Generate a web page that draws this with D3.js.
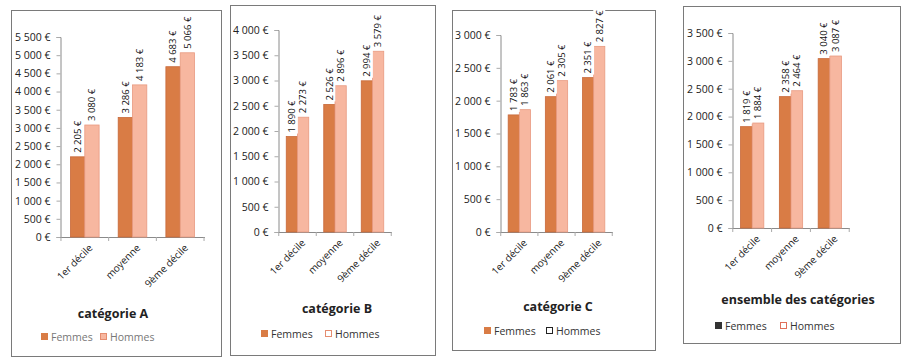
<!DOCTYPE html>
<html>
<head>
<meta charset="utf-8">
<script src="https://cdn.jsdelivr.net/npm/d3@7"></script>
<style>
  body { margin: 0; background: #fff; }
  svg text { font-family: "Open Sans", "Liberation Sans", sans-serif; }
</style>
</head>
<body>
<svg id="chart" width="904" height="358"></svg>
<script>
"use strict";

// data
var categories = ["1er décile", "moyenne", "9ème décile"];
var series = ["Femmes", "Hommes"];

var femmesA = [2205, 3286, 4683];
var hommesA = [3080, 4183, 5066];
var femmesB = [1890, 2526, 2994];
var hommesB = [2273, 2896, 3579];
var femmesC = [1783, 2061, 2351];
var hommesC = [1863, 2305, 2827];
var femmesT = [1819, 2358, 3040];
var hommesT = [1884, 2464, 3087];

var titles = ["catégorie  A", "catégorie  B", "catégorie  C", "ensemble des catégories"];
var yMaxes = [5500, 4000, 3000, 3500];
var tickStep = 500;

// layout of each panel (positions only)
var panels = [
  {box: [11, 10, 221, 356], left: 60, right: 205, top: 37, bottom: 237,
   titleX: 113, titleY: 318, legY: 337, legX: [41, 100],
   femColor: "#d97c45", homFill: "#f7b7a0", homStroke: "#e58d70", legText: "#777"},
  {box: [230, 5, 435, 355], left: 278, right: 392, top: 30, bottom: 232,
   titleX: 337, titleY: 313, legY: 334, legX: [261, 325],
   femColor: "#d97c45", homFill: "#fff", homStroke: "#e58d70", legText: "#333"},
  {box: [452, 10, 655, 350], left: 500, right: 613, top: 35, bottom: 232,
   titleX: 558, titleY: 311, legY: 331, legX: [484, 546],
   femColor: "#d97c45", homFill: "#fff", homStroke: "#222", legText: "#333"},
  {box: [683, 6, 900, 343], left: 732, right: 850, top: 33, bottom: 228,
   titleX: 798, titleY: 304, legY: 326, legX: [715, 780],
   femColor: "#333", homFill: "#fff", homStroke: "#e0705a", legText: "#333"}
];

var dataSets = [
  [femmesA, hommesA],
  [femmesB, hommesB],
  [femmesC, hommesC],
  [femmesT, hommesT]
];

var fmt = function(v) {
  return d3.format(",")(v).replace(/,/g, " ") + " €";
};

var svg = d3.select("#chart");

panels.forEach(function(p, k) {
  var g = svg.append("g");
  var yMax = yMaxes[k];
  var vals = dataSets[k];

  // panel frame
  g.append("rect")
    .attr("x", p.box[0] + 0.5)
    .attr("y", p.box[1] + 0.5)
    .attr("width", p.box[2] - p.box[0])
    .attr("height", p.box[3] - p.box[1])
    .attr("fill", "#fff")
    .attr("stroke", "#7a7a7a")
    .attr("stroke-width", 1);

  var y = d3.scaleLinear().domain([0, yMax]).range([p.bottom, p.top]);
  var x0 = d3.scaleBand().domain(categories).range([p.left, p.right])
    .paddingInner(0.4).paddingOuter(0.22);
  var x1 = d3.scaleBand().domain(series).range([0, x0.bandwidth()]);

  // y axis
  var yAxis = d3.axisLeft(y)
    .tickValues(d3.range(0, yMax + 1, tickStep))
    .tickSize(4)
    .tickPadding(6)
    .tickFormat(fmt);
  var ya = g.append("g")
    .attr("transform", "translate(" + (p.left + 0.5) + ",0)")
    .call(yAxis);
  ya.select(".domain").attr("stroke", "#8a8a8a");
  ya.selectAll(".tick line").attr("stroke", "#aaa");
  ya.selectAll("text")
    .attr("fill", "#222")
    .style("font-size", "10.5px");

  // x axis line and ticks between categories
  g.append("line")
    .attr("x1", p.left).attr("x2", p.right)
    .attr("y1", p.bottom + 0.5).attr("y2", p.bottom + 0.5)
    .attr("stroke", "#8a8a8a");
  var step = x0.step();
  var bounds = d3.range(0, categories.length + 1).map(function(i) {
    return p.left + x0.paddingOuter() * step - x0.paddingInner() * step / 2 + i * step;
  });
  g.selectAll(".xt")
    .data(bounds)
    .enter()
    .append("line")
    .attr("x1", function(d) { return d; })
    .attr("x2", function(d) { return d; })
    .attr("y1", p.bottom)
    .attr("y2", p.bottom + 4)
    .attr("stroke", "#aaa");

  // category labels
  g.selectAll(".cat")
    .data(categories)
    .enter()
    .append("text")
    .attr("transform", function(d) {
      return "translate(" + (x0(d) + x0.bandwidth() / 2 + 6) + "," + (p.bottom + 9) + ") rotate(-45)";
    })
    .attr("text-anchor", "end")
    .attr("dy", "0.35em")
    .attr("fill", "#222")
    .style("font-size", "10px")
    .text(function(d) { return d; });

  // bars
  series.forEach(function(s, si) {
    g.selectAll(".bar" + si)
      .data(vals[si])
      .enter()
      .append("rect")
      .attr("x", function(d, i) { return x0(categories[i]) + x1(s); })
      .attr("y", function(d) { return y(d); })
      .attr("width", x1.bandwidth())
      .attr("height", function(d) { return p.bottom - y(d); })
      .attr("fill", si === 0 ? "#d97c45" : "#f7b7a0")
      .attr("stroke", si === 0 ? "#c8693a" : "#e89a80")
      .attr("stroke-width", 0.8);
  });

  // value labels, vertical, with white background
  series.forEach(function(s, si) {
    var lab = g.selectAll(".lab" + si)
      .data(vals[si])
      .enter()
      .append("g")
      .attr("transform", function(d, i) {
        var cx = x0(categories[i]) + x1(s) + x1.bandwidth() / 2;
        return "translate(" + cx + "," + (y(d) - 3) + ") rotate(-90)";
      });
    var bg = lab.append("rect").attr("fill", "#fff");
    var tx = lab.append("text")
      .attr("x", 1)
      .attr("dy", "0.35em")
      .attr("fill", "#111")
      .style("font-size", "9.5px")
      .text(function(d) { return fmt(d); });
    bg.each(function(d, i) {
      var w = tx.nodes()[i].getComputedTextLength();
      d3.select(this)
        .attr("x", 0).attr("y", -6)
        .attr("width", w + 2).attr("height", 12);
    });
  });

  // title
  g.append("text")
    .attr("x", p.titleX)
    .attr("y", p.titleY)
    .attr("text-anchor", "middle")
    .attr("fill", "#222")
    .style("font-size", "12.5px")
    .style("font-weight", "bold")
    .text(titles[k]);

  // legend
  var legend = g.selectAll(".legend")
    .data(series)
    .enter()
    .append("g")
    .attr("transform", function(d, i) {
      return "translate(" + p.legX[i] + "," + p.legY + ")";
    });
  legend.append("rect")
    .attr("x", 0.5).attr("y", -3.5)
    .attr("width", 6).attr("height", 6)
    .attr("fill", function(d, i) { return i === 0 ? p.femColor : p.homFill; })
    .attr("stroke", function(d, i) { return i === 0 ? p.femColor : p.homStroke; });
  legend.append("text")
    .attr("x", 10)
    .attr("dy", "0.35em")
    .attr("fill", p.legText)
    .style("font-size", "10.5px")
    .text(function(d) { return d; });
});
</script>
</body>
</html>
